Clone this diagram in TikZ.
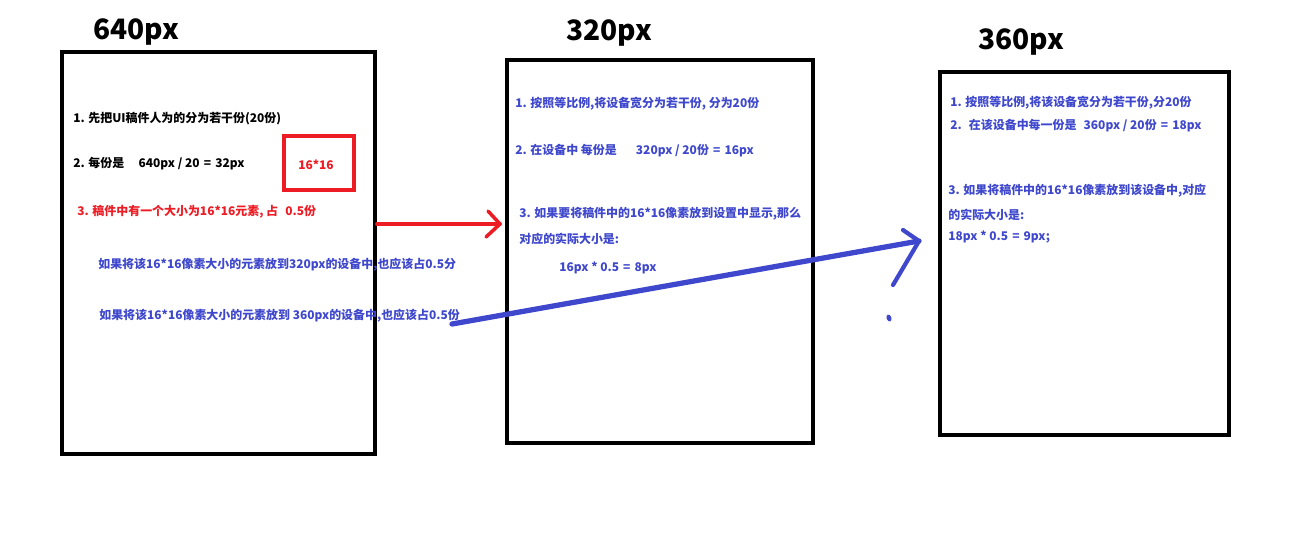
\documentclass[tikz,border=0pt]{standalone}
\usepackage{fontspec}
\newfontfamily\cjk{Noto Sans CJK SC}
\usetikzlibrary{positioning}

\definecolor{paintblue}{RGB}{63,72,204}
\definecolor{paintred}{RGB}{237,28,36}

\newcommand{\eqs}{\hspace{0.35em}=\hspace{0.35em}}

\begin{document}
\begin{tikzpicture}[x=0.02cm,y=-0.02cm,
  every node/.style={inner sep=0},
  note/.style={anchor=west,font=\cjk\bfseries\fontsize{6.8}{8}\selectfont},
  title/.style={font=\cjk\bfseries\fontsize{16}{18}\selectfont},
  screen/.style={draw,line width=2.5pt},
  stroke/.style={line width=#1,line cap=round,line join=round}]
\useasboundingbox (0,0) rectangle (1296,532);

% the three screens
\node[screen,minimum width=6.26cm,minimum height=8.04cm] (dev640) at (218.5,253) {};
\node[screen,minimum width=6.12cm,minimum height=7.66cm] (dev320) at (660,251.5) {};
\node[screen,minimum width=5.78cm,minimum height=7.26cm] (dev360) at (1084.5,253.5) {};

\node[title] (t640) at (136,32) {640px};
\node[title] (t320) at (609,33) {320px};
\node[title] (t360) at (1021,42) {360px};

% design draft
\node[note] (a1) at (73,119) {1. 先把UI稿件人为的分为若干份(20份)};
\node[note] (a2) at (73,164) {2. 每份是\hspace{1.2em}640px / 20\eqs 32px};
\node[draw=paintred,line width=2.6pt,minimum width=1.4cm,minimum height=1.08cm] (elem) at (319,163) {};
\node[note,anchor=center,text=paintred] (elemt) at (316,165) {16*16};
\node[note,text=paintred] (a3) at (77,212) {3. 稿件中有一个大小为16*16元素, 占\hspace{0.6em}0.5份};
\node[note,text=paintblue] (a4) at (98,265) {如果将该16*16像素大小的元素放到320px的设备中,也应该占0.5分};
\node[note,text=paintblue] (a5) at (99,316) {如果将该16*16像素大小的元素放到 360px的设备中,也应该占0.5份};

% 320px device
\node[note,text=paintblue] (b1) at (515,104) {1. 按照等比例,将设备宽分为若干份, 分为20份};
\node[note,text=paintblue] (b2) at (515,151) {2. 在设备中 每份是\hspace{1.6em}320px / 20份\eqs 16px};
\node[note,text=paintblue] (b3) at (519,214) {3. 如果要将稿件中的16*16像素放到设置中显示,那么};
\node[note,text=paintblue] (b4) at (519,239) {对应的实际大小是:};
\node[note,text=paintblue] (b5) at (559,268) {16px * 0.5\eqs 8px};

% 360px device
\node[note,text=paintblue] (c1) at (950,103) {1. 按照等比例,将该设备宽分为若干份,分20份};
\node[note,text=paintblue] (c2) at (950,126) {2.\hspace{0.6em}在该设备中每一份是\hspace{0.6em}360px / 20份\eqs 18px};
\node[note,text=paintblue] (c3) at (948,191) {3. 如果将稿件中的16*16像素放到该设备中,对应};
\node[note,text=paintblue] (c4) at (948,215) {的实际大小是:};
\node[note,text=paintblue] (c5) at (948,237) {18px * 0.5\eqs 9px;};

% hand drawn arrows
\coordinate (redfrom) at (377,224);
\coordinate (redto) at (500,224);
\draw[paintred,stroke=2.2pt] (redfrom) -- (redto);
\draw[paintred,stroke=2pt] (488,211) -- (redto) -- (486,237);

\coordinate (bluefrom) at (452,324);
\coordinate (blueto) at (919,241);
\draw[paintblue,stroke=3pt] (bluefrom) -- (blueto);
\draw[paintblue,stroke=2.4pt] (903,230) -- (blueto) -- (893,285);
\fill[paintblue,rotate around={20:(889,318)}] (889,318) ellipse (2.4 and 3.6);
\end{tikzpicture}
\end{document}
